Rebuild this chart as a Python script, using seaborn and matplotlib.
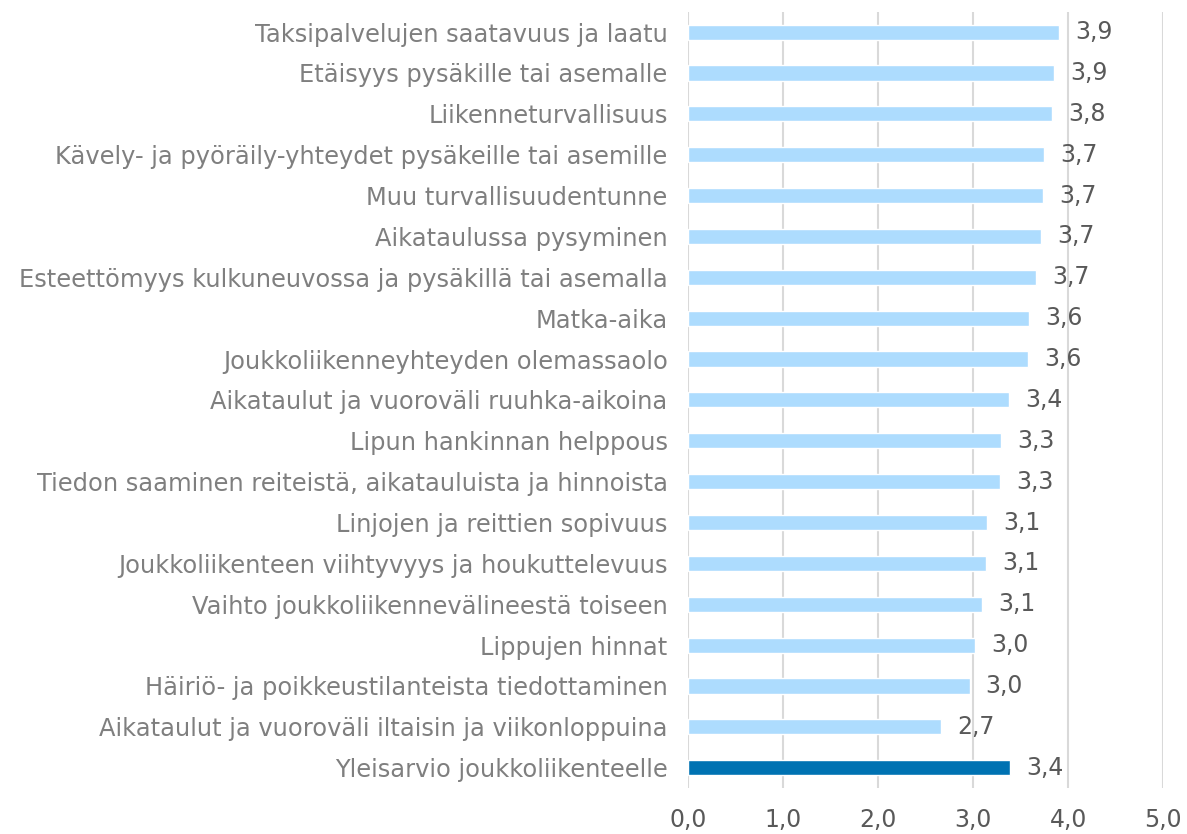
import pandas as pd
import seaborn as sns
import matplotlib.pyplot as plt

# --- DATA ---
categories = [
    "Taksipalvelujen saatavuus ja laatu",
    "Etäisyys pysäkille tai asemalle",
    "Liikenneturvallisuus",
    "Kävely- ja pyöräily-yhteydet pysäkeille tai asemille",
    "Muu turvallisuudentunne",
    "Aikataulussa pysyminen",
    "Esteettömyys kulkuneuvossa ja pysäkillä tai asemalla",
    "Matka-aika",
    "Joukkoliikenneyhteyden olemassaolo",
    "Aikataulut ja vuoroväli ruuhka-aikoina",
    "Lipun hankinnan helppous",
    "Tiedon saaminen reiteistä, aikatauluista ja hinnoista",
    "Linjojen ja reittien sopivuus",
    "Joukkoliikenteen viihtyvyys ja houkuttelevuus",
    "Vaihto joukkoliikennevälineestä toiseen",
    "Lippujen hinnat",
    "Häiriö- ja poikkeustilanteista tiedottaminen",
    "Aikataulut ja vuoroväli iltaisin ja viikonloppuina",
    "Yleisarvio joukkoliikenteelle",
]
values = [3.90, 3.85, 3.83, 3.74, 3.73, 3.71, 3.66, 3.59, 3.58, 3.38,
          3.29, 3.28, 3.14, 3.13, 3.09, 3.02, 2.96, 2.66, 3.39]
x_ticks = [0, 1, 2, 3, 4, 5]

LIGHT = "#ADDCFE"
DARK = "#0072B2"
palette = [LIGHT] * (len(categories) - 1) + [DARK]

df = pd.DataFrame({"Kategoria": categories, "Arvo": values})

sns.set_theme(style="white")
plt.rcParams["font.family"] = ["DejaVu Sans"]

fig = plt.figure(figsize=(11.87, 8.34), dpi=100)
ax = fig.add_axes([0.58, 0.055, 0.40, 0.931])

sns.barplot(data=df, x="Arvo", y="Kategoria", hue="Kategoria", palette=palette,
            legend=False, width=0.37, ax=ax, orient="h", saturation=1)

ax.set_xlim(0, 5)
ax.set_ylim(len(categories) - 0.5, -0.5)
ax.set_xticks(x_ticks)
ax.set_xticklabels([f"{t:.1f}".replace(".", ",") for t in x_ticks],
                   fontsize=17, color="#595959")
ax.tick_params(axis="y", labelsize=17.4, labelcolor="#7F7F7F", length=0, pad=15)
ax.tick_params(axis="x", length=0, pad=14)
ax.set_xlabel("")
ax.set_ylabel("")

ax.grid(axis="x", color="#D9D9D9", linewidth=1.5)
ax.set_axisbelow(True)
for s in ax.spines.values():
    s.set_visible(False)

for i, v in enumerate(values):
    ax.text(v + 0.17, i, f"{v:.1f}".replace(".", ","), va="center", ha="left",
            fontsize=17, color="#595959")

fig.savefig("out.png", dpi=100)
